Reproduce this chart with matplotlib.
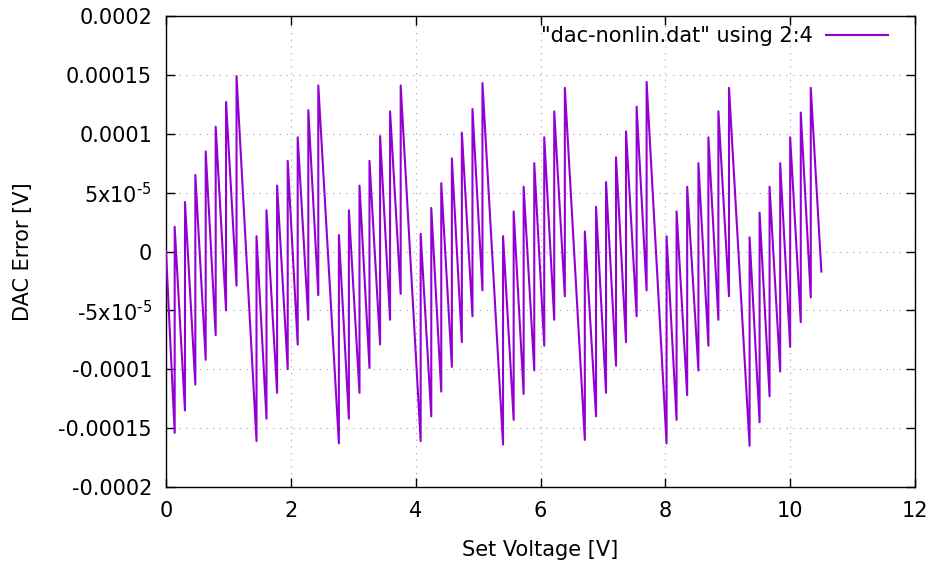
import matplotlib
matplotlib.use("Agg")
import matplotlib.pyplot as plt

# ---- data ----
start_v = 0.0
start_err = 0.0
jump_v = [0.139, 0.304, 0.470, 0.636, 0.796, 0.962, 1.130,
          1.450, 1.610, 1.780, 1.950, 2.110, 2.280, 2.440,
          2.770, 2.930, 3.100, 3.260, 3.430, 3.590, 3.760,
          4.080, 4.250, 4.410, 4.580, 4.740, 4.910, 5.070,
          5.400, 5.570, 5.730, 5.900, 6.060, 6.220, 6.390,
          6.710, 6.890, 7.050, 7.210, 7.370, 7.540, 7.700,
          8.020, 8.180, 8.350, 8.530, 8.690, 8.850, 9.020,
          9.350, 9.510, 9.670, 9.840, 10.000, 10.170, 10.330]
tooth_low = [-1.54e-4, -1.35e-4, -1.13e-4, -9.2e-5, -7.1e-5, -5.0e-5, -2.9e-5,
             -1.61e-4, -1.42e-4, -1.20e-4, -1.00e-4, -7.9e-5, -5.8e-5, -3.7e-5,
             -1.63e-4, -1.42e-4, -1.20e-4, -9.9e-5, -7.9e-5, -5.8e-5, -3.6e-5,
             -1.61e-4, -1.40e-4, -1.19e-4, -9.8e-5, -7.7e-5, -5.5e-5, -3.3e-5,
             -1.64e-4, -1.43e-4, -1.21e-4, -1.01e-4, -8.0e-5, -5.8e-5, -3.8e-5,
             -1.60e-4, -1.40e-4, -1.20e-4, -9.7e-5, -7.7e-5, -5.5e-5, -3.3e-5,
             -1.63e-4, -1.43e-4, -1.22e-4, -1.01e-4, -8.0e-5, -5.8e-5, -3.8e-5,
             -1.65e-4, -1.45e-4, -1.23e-4, -1.02e-4, -8.1e-5, -6.0e-5, -3.9e-5]
tooth_high = [2.1e-5, 4.2e-5, 6.5e-5, 8.5e-5, 1.06e-4, 1.27e-4, 1.49e-4,
              1.3e-5, 3.5e-5, 5.6e-5, 7.7e-5, 9.7e-5, 1.20e-4, 1.41e-4,
              1.4e-5, 3.5e-5, 5.6e-5, 7.7e-5, 9.8e-5, 1.19e-4, 1.41e-4,
              1.5e-5, 3.7e-5, 5.8e-5, 7.9e-5, 1.01e-4, 1.21e-4, 1.43e-4,
              1.3e-5, 3.4e-5, 5.5e-5, 7.5e-5, 9.7e-5, 1.19e-4, 1.39e-4,
              1.7e-5, 3.8e-5, 5.9e-5, 8.0e-5, 1.02e-4, 1.23e-4, 1.44e-4,
              1.3e-5, 3.4e-5, 5.5e-5, 7.5e-5, 9.7e-5, 1.19e-4, 1.39e-4,
              1.2e-5, 3.3e-5, 5.5e-5, 7.5e-5, 9.7e-5, 1.18e-4, 1.39e-4]
end_v = 10.50
end_err = -1.7e-5

x_ticks = [0, 2, 4, 6, 8, 10, 12]
y_ticks = [-0.0002, -0.00015, -0.0001, -0.00005, 0, 0.00005, 0.0001, 0.00015, 0.0002]
y_tick_labels = ["-0.0002", "-0.00015", "-0.0001", r"-5x10$^{\text{-5}}$", "0",
                 r"5x10$^{\text{-5}}$", "0.0001", "0.00015", "0.0002"]
series_label = '"dac-nonlin.dat" using 2:4'

# ---- build the polyline ----
xs = [start_v]
ys = [start_err]
for v, lo, hi in zip(jump_v, tooth_low, tooth_high):
    xs += [v, v]
    ys += [lo, hi]
xs.append(end_v)
ys.append(end_err)

plt.rcParams['font.family'] = ['DejaVu Sans']
plt.rcParams['mathtext.fontset'] = 'dejavusans'
plt.rcParams['axes.unicode_minus'] = False

fig = plt.figure(figsize=(9.34, 5.62), dpi=100)
ax = fig.add_axes([166/934, 1-487/562, (915-166)/934, (487-16)/562])

ax.plot(xs, ys, color='#9400D3', lw=1.5, label=series_label, zorder=3)

ax.set_xlim(0, 12)
ax.set_ylim(-0.0002, 0.0002)
ax.set_xticks(x_ticks)
ax.set_xticklabels([str(t) for t in x_ticks])
ax.set_yticks(y_ticks)
ax.set_yticklabels(y_tick_labels)

ax.tick_params(direction='in', length=6.5, width=1, top=True, right=True,
               labelsize=15, colors='black')
ax.tick_params(axis='y', pad=10)
ax.tick_params(axis='x', pad=10)
for s in ax.spines.values():
    s.set_linewidth(1.0)
    s.set_color('black')

ax.grid(True, color='#a0a0a0', linestyle=(0, (1, 5)), linewidth=0.8)
ax.set_axisbelow(True)

ax.set_xlabel('Set Voltage [V]', fontsize=15, labelpad=14)
ax.set_ylabel('DAC Error [V]', fontsize=15, labelpad=18)

ax.legend(loc='upper right', bbox_to_anchor=(0.964, 0.978), frameon=False,
          fontsize=15, markerfirst=False, handlelength=3.0, handletextpad=0.6,
          borderpad=0, borderaxespad=0)

fig.savefig('out.png', dpi=100)
